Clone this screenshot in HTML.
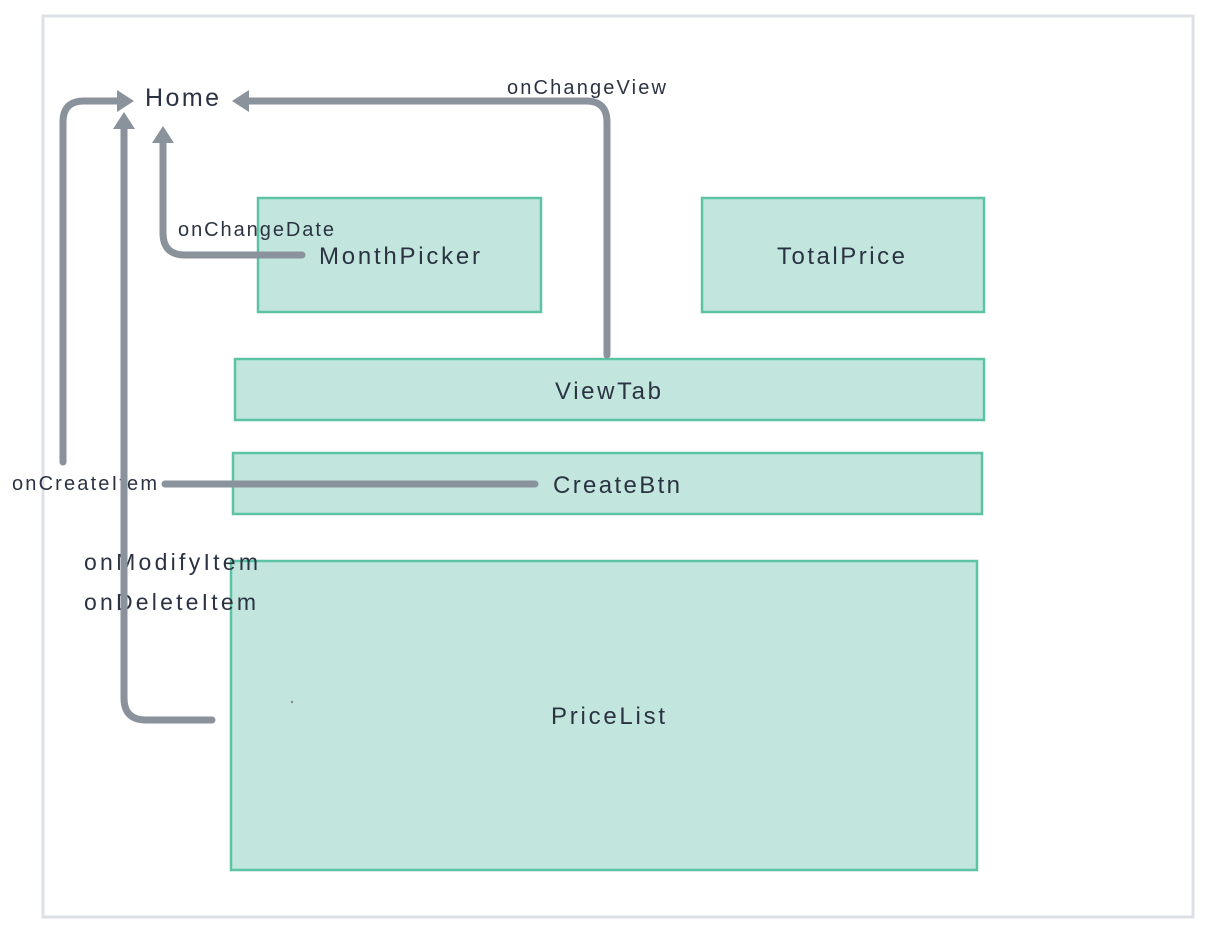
<!DOCTYPE html>
<html><head><meta charset="utf-8"><style>
html,body{margin:0;padding:0;background:#fff;}
svg{display:block;}
text{font-family:"Liberation Sans",sans-serif;fill:#2b3342;}
</style></head><body>
<svg width="1212" height="930" viewBox="0 0 1212 930" xmlns="http://www.w3.org/2000/svg">
<rect x="0" y="0" width="1212" height="930" fill="#fff"/>
<rect x="43" y="16" width="1150" height="901" fill="none" stroke="#dde0e6" stroke-width="3"/>
<g fill="#c2e6de" stroke="#5cc3a5" stroke-width="2.5">
<rect x="258" y="198" width="283" height="114"/>
<rect x="702" y="198" width="282" height="114"/>
<rect x="235" y="359" width="749" height="61"/>
<rect x="233" y="453" width="749" height="61"/>
<rect x="231" y="561" width="746" height="309"/>
</g>
<g font-size="24" lengthAdjust="spacing">
<text x="319" y="264" textLength="161" lengthAdjust="spacing">MonthPicker</text>
<text x="777" y="264" textLength="128" lengthAdjust="spacing">TotalPrice</text>
<text x="555" y="399" textLength="106" lengthAdjust="spacing">ViewTab</text>
<text x="553" y="493" textLength="127" lengthAdjust="spacing">CreateBtn</text>
<text x="551" y="724" textLength="114" lengthAdjust="spacing">PriceList</text>
</g>
<text x="145" y="106" font-size="25" textLength="74" lengthAdjust="spacing">Home</text>
<g font-size="20">
<text x="178" y="236" textLength="156" lengthAdjust="spacing">onChangeDate</text>
<text x="507" y="94" textLength="159" lengthAdjust="spacing">onChangeView</text>
<text x="12" y="490" textLength="145" lengthAdjust="spacing">onCreateItem</text>
<text x="84" y="570" font-size="23" textLength="174" lengthAdjust="spacing">onModifyItem</text>
<text x="84" y="610" font-size="23" textLength="172" lengthAdjust="spacing">onDeleteItem</text>
</g>
<g fill="none" stroke="#8a929c" stroke-width="7" stroke-linecap="round" stroke-linejoin="round">
<path d="M63 462 V122 Q63 101 84 101 H118"/>
<path d="M212 720 H146 Q124 720 124 698 V126"/>
<path d="M302 255 H185 Q163 255 163 233 V140"/>
<path d="M607 355 V122 Q607 101 586 101 H246"/>
<path d="M165 484 H535"/>
</g>
<g fill="#8a929c">
<polygon points="134,101 117,90 117,112"/>
<polygon points="124,112 113,129 135,129"/>
<polygon points="163,126 152,143 174,143"/>
<polygon points="232,101 249,90 249,112"/>
</g>
<circle cx="292" cy="702" r="1.2" fill="#888"/>
</svg>
</body></html>
